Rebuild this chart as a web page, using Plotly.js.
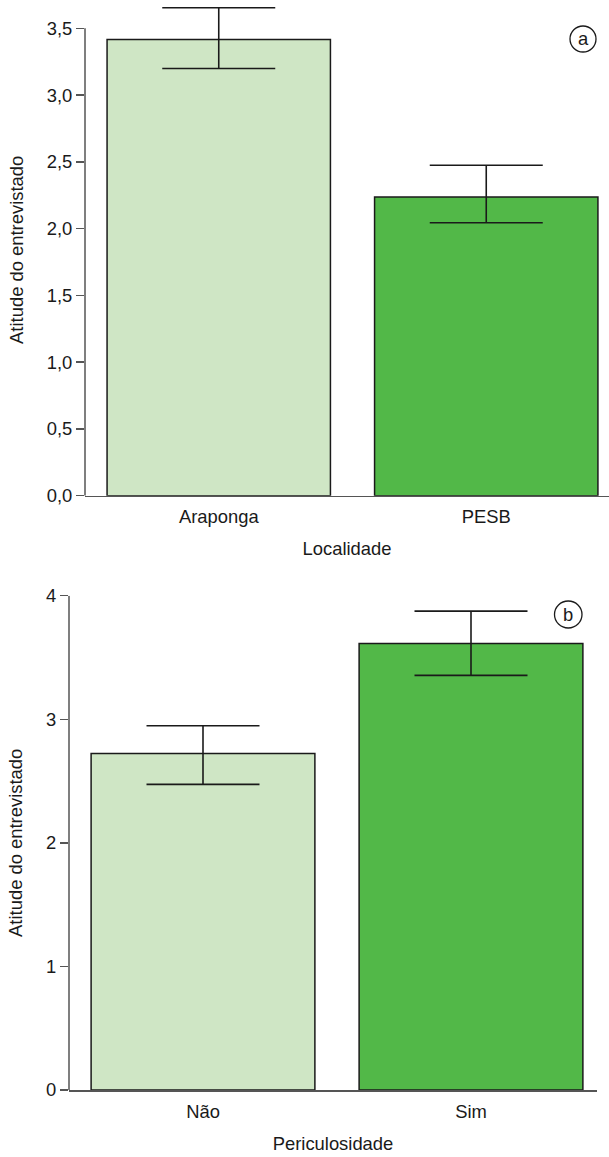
<!DOCTYPE html>
<html>
<head>
<meta charset="utf-8">
<script src="https://cdn.plot.ly/plotly-3.0.1.min.js"></script>
<style>html,body{margin:0;padding:0;background:#fff;}#chart{width:609px;height:1157px;}</style>
</head>
<body>
<div id="chart"></div>
<script>
// Panel (a): Localidade
const locCategories = ['Araponga', 'PESB'];
const locMeans = [3.416, 2.237];
const locErrPlus = [0.238, 0.237];
const locErrMinus = [0.217, 0.193];
const locTicks = [0, 0.5, 1, 1.5, 2, 2.5, 3, 3.5];

// Panel (b): Periculosidade
const perCategories = ['Não', 'Sim'];
const perMeans = [2.724, 3.614];
const perErrPlus = [0.223, 0.261];
const perErrMinus = [0.251, 0.259];
const perTicks = [0, 1, 2, 3, 4];

const yTitle = 'Atitude do entrevistado';
const barColors = ['#cfe6c5', '#52b848'];

const W = 609, H = 1157;
const px = x => x / W;
const py = y => 1 - y / H;

const font = {family: 'Liberation Sans, Arial, sans-serif', size: 18.4, color: '#1a1a1a'};
const axisColor = '#555';

function barTrace(cats, vals, plus, minus, xa, ya) {
  return {
    type: 'bar', x: cats, y: vals, xaxis: xa, yaxis: ya,
    width: 0.835,
    cliponaxis: false,
    marker: {color: barColors, line: {color: '#1a1a1a', width: 1.5}},
    error_y: {type: 'data', symmetric: false, array: plus, arrayminus: minus,
              color: '#1a1a1a', thickness: 1.6, width: 56.5},
    hoverinfo: 'skip'
  };
}

const data = [
  barTrace(locCategories, locMeans, locErrPlus, locErrMinus, 'x', 'y'),
  barTrace(perCategories, perMeans, perErrPlus, perErrMinus, 'x2', 'y2')
];

const yCommon = {
  showline: false,
  ticks: 'outside', ticklen: 8, tickwidth: 1.5, tickcolor: axisColor,
  showgrid: false, zeroline: false, tickfont: font,
  title: {text: yTitle, font: font, standoff: 18}
};
const xCommon = {
  showline: true, linecolor: axisColor, linewidth: 1.5,
  ticks: 'outside', ticklen: 4, tickcolor: 'rgba(0,0,0,0)',
  showgrid: false, zeroline: false, tickfont: font, type: 'category'
};

// top panel: y axis line spans 0..3.5 (495.7px .. 28.3px); domain extended up to leave room for error bar
const topPxPerUnit = (495.7 - 28.3) / 3.5;
const topRangeMax = 3.5 + (28.3 - 4) / topPxPerUnit;

const layout = {
  width: W, height: H,
  margin: {l: 0, r: 0, t: 0, b: 0},
  paper_bgcolor: '#fff', plot_bgcolor: '#fff',
  showlegend: false,
  separators: ',.',
  font: font,
  xaxis: Object.assign({}, xCommon, {
    domain: [px(85), 1], anchor: 'y',
    range: [-0.5, -0.5 + (609 - 85) / 267.5],
    title: {text: 'Localidade', font: font, standoff: 16}
  }),
  yaxis: Object.assign({}, yCommon, {
    domain: [py(495.7), py(4)], anchor: 'x',
    range: [0, topRangeMax], tickvals: locTicks, tickformat: '.1f'
  }),
  xaxis2: Object.assign({}, xCommon, {
    domain: [px(69), px(597)], anchor: 'y2',
    range: [-0.5, -0.5 + (597 - 69) / 268],
    title: {text: 'Periculosidade', font: font, standoff: 16}
  }),
  yaxis2: Object.assign({}, yCommon, {
    domain: [py(1090), py(595.7)], anchor: 'x2',
    range: [0, 4], tickvals: perTicks, tickformat: 'd'
  }),
  shapes: [
    {type: 'line', xref: 'paper', yref: 'y', x0: px(85), x1: px(85), y0: 0, y1: 3.5,
     line: {color: axisColor, width: 1.5}},
    {type: 'line', xref: 'paper', yref: 'y2', x0: px(69), x1: px(69), y0: 0, y1: 4,
     line: {color: axisColor, width: 1.5}},
    {type: 'circle', xref: 'paper', yref: 'paper',
     x0: px(570), x1: px(596), y0: py(52), y1: py(26),
     line: {color: '#1a1a1a', width: 1.3}},
    {type: 'circle', xref: 'paper', yref: 'paper',
     x0: px(554.5), x1: px(582), y0: py(628), y1: py(601),
     line: {color: '#1a1a1a', width: 1.3}}
  ],
  annotations: [
    {text: 'a', xref: 'paper', yref: 'paper', x: px(583), y: py(38.5),
     showarrow: false, xanchor: 'center', yanchor: 'middle', font: font},
    {text: 'b', xref: 'paper', yref: 'paper', x: px(568.3), y: py(614),
     showarrow: false, xanchor: 'center', yanchor: 'middle', font: font}
  ]
};

Plotly.newPlot('chart', data, layout, {staticPlot: true, displayModeBar: false});
</script>
</body>
</html>
